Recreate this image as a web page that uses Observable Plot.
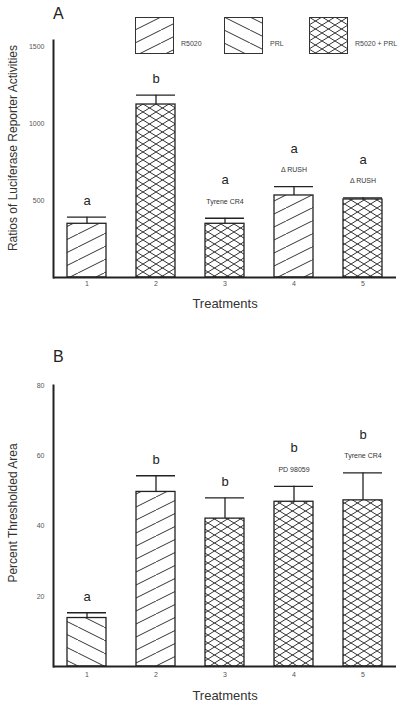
<!DOCTYPE html>
<html><head><meta charset="utf-8">
<script src="https://cdn.jsdelivr.net/npm/d3@7"></script>
<script src="https://cdn.jsdelivr.net/npm/@observablehq/plot@0.6"></script>
<style>
body{margin:0;background:#fff;font-family:"Liberation Sans",Arial,sans-serif;}
#wrap{position:relative;width:400px;height:703px;overflow:hidden;background:#fff}
.panel{position:absolute;left:0}
.plabel{position:absolute;left:53px;font-size:16px;color:#222;line-height:1}
#legend{position:absolute;top:17px;left:135px;display:grid;grid-template-columns:89px 85px auto}
#legend .item{display:flex;align-items:center}
#legend .item span{font-size:7px;color:#444;margin-left:7px;position:relative;top:8px;white-space:nowrap}
</style></head><body>
<div id="wrap">
<svg width="0" height="0" style="position:absolute">
<defs>
<pattern id="hatchUp" patternUnits="userSpaceOnUse" width="26" height="13">
<path d="M-2,14 L28,-1" stroke="#333" stroke-width="1"/>
</pattern>
<pattern id="hatchDown" patternUnits="userSpaceOnUse" width="26" height="13">
<path d="M-2,-1 L28,14" stroke="#333" stroke-width="1"/>
</pattern>
<pattern id="cross" patternUnits="userSpaceOnUse" width="13" height="8">
<path d="M-1,-0.6 L14,8.6 M-1,8.6 L14,-0.6" stroke="#333" stroke-width="1"/>
</pattern>
</defs>
</svg>
</div>
<script>
// ---- data ----
const treatments = [1, 2, 3, 4, 5];
const legendKeys = ["R5020", "PRL", "R5020 + PRL"];

// Panel A
const treatmentA = ["R5020", "R5020 + PRL", "R5020 + PRL", "R5020", "R5020 + PRL"];
const meanA = [349, 1124, 349, 533, 507];
const semA = [43, 61, 36, 58, 11];
const letterA = ["a", "b", "a", "a", "a"];
const noteA = ["", "", "Tyrene CR4", "Δ RUSH", "Δ RUSH"];
const yTicksA = [500, 1000, 1500];
const yLabelA = "Ratios of Luciferase Reporter Activities";

// Panel B
const treatmentB = ["PRL", "R5020", "R5020 + PRL", "R5020 + PRL", "R5020 + PRL"];
const meanB = [13.8, 49.7, 42.1, 46.9, 47.3];
const semB = [1.5, 4.6, 5.9, 4.4, 7.8];
const letterB = ["a", "b", "b", "b", "b"];
const noteB = ["", "", "", "PD 98059", "Tyrene CR4"];
const yTicksB = [20, 40, 60, 80];
const yLabelB = "Percent Thresholded Area";
const xLabel = "Treatments";

const patternId = {"R5020": "hatchUp", "PRL": "hatchDown", "R5020 + PRL": "cross"};
const font = '"Liberation Sans", Arial, sans-serif';

function rowsOf(kinds, means, sems, letters, notes) {
  return treatments.map((t, i) => ({
    t, kind: kinds[i], mean: means[i], top: means[i] + sems[i],
    letter: letters[i], note: notes[i]
  }));
}

function panel({rows, height, marginTop, marginBottom, yDomain, yTicks, yLabel, yLabelDy, xLabelDy, tickPad}) {
  const withNote = rows.filter(d => d.note);
  const noNote = rows.filter(d => !d.note);
  const barMarks = legendKeys.map(k =>
    Plot.barY(rows.filter(d => d.kind === k), {
      x: "t", y: "mean", fill: `url(#${patternId[k]})`, stroke: "#222", strokeWidth: 1.3
    })
  );
  return Plot.plot({
    width: 400, height, marginLeft: 53, marginRight: 4, marginTop, marginBottom,
    style: {fontFamily: font, background: "transparent", color: "#222", overflow: "visible"},
    x: {domain: treatments, paddingInner: 0.435, paddingOuter: 0.2, label: null, axis: null},
    y: {domain: yDomain, label: null, axis: null},
    marks: [
      ...barMarks,
      Plot.ruleX(rows, {x: "t", y1: "mean", y2: "top", stroke: "#222", strokeWidth: 1.3}),
      Plot.tickY(rows, {x: "t", y: "top", stroke: "#222", strokeWidth: 1.3}),
      Plot.text(noNote, {x: "t", y: "top", text: "letter", dy: -16, fontSize: 13, fill: "#222"}),
      Plot.text(withNote, {x: "t", y: "top", text: "note", dy: -17, fontSize: 7, fill: "#333"}),
      Plot.text(withNote, {x: "t", y: "top", text: "letter", dy: -38, fontSize: 13, fill: "#222"}),
      Plot.axisY(yTicks, {tickSize: 0, tickPadding: 9, fontSize: 7, fill: "#555", label: null, tickFormat: d => String(d)}),
      Plot.axisX(treatments, {tickSize: 0, tickPadding: tickPad, fontSize: 7, fill: "#555", label: null}),
      Plot.text([yLabel], {frameAnchor: "left", textAnchor: "middle", rotate: -90, dx: -40, dy: yLabelDy, fontSize: 12, fill: "#333"}),
      Plot.text([xLabel], {frameAnchor: "bottom", lineAnchor: "middle", dy: xLabelDy, fontSize: 13, fill: "#333"}),
      Plot.ruleY([0], {stroke: "#222", strokeWidth: 2}),
      Plot.frame({anchor: "left", stroke: "#222", strokeWidth: 2})
    ]
  });
}

const wrap = document.getElementById("wrap");

const svgA = panel({
  rows: rowsOf(treatmentA, meanA, semA, letterA, noteA),
  height: 315, marginTop: 40, marginBottom: 38,
  yDomain: [0, 1540], yTicks: yTicksA, yLabel: yLabelA, yLabelDy: -11, xLabelDy: 26, tickPad: 4
});
svgA.classList.add("panel"); svgA.style.top = "0px";
wrap.appendChild(svgA);

const svgB = panel({
  rows: rowsOf(treatmentB, meanB, semB, letterB, noteB),
  height: 388, marginTop: 70, marginBottom: 37,
  yDomain: [0, 80], yTicks: yTicksB, yLabel: yLabelB, yLabelDy: -13, xLabelDy: 29, tickPad: 6
});
svgB.classList.add("panel"); svgB.style.top = "315px";
wrap.appendChild(svgB);

// panel letters
for (const [txt, top] of [["A", 6], ["B", 349]]) {
  const d = document.createElement("div");
  d.className = "plabel"; d.textContent = txt; d.style.top = top + "px";
  wrap.appendChild(d);
}

// legend
const legend = document.createElement("div");
legend.id = "legend";
for (const k of legendKeys) {
  const item = document.createElement("div");
  item.className = "item";
  item.innerHTML = `<svg width="39" height="37"><rect x="0.5" y="0.5" width="38" height="36" fill="url(#${patternId[k]})" stroke="#333" stroke-width="1"/></svg><span>${k}</span>`;
  legend.appendChild(item);
}
wrap.appendChild(legend);
</script>
</body></html>
